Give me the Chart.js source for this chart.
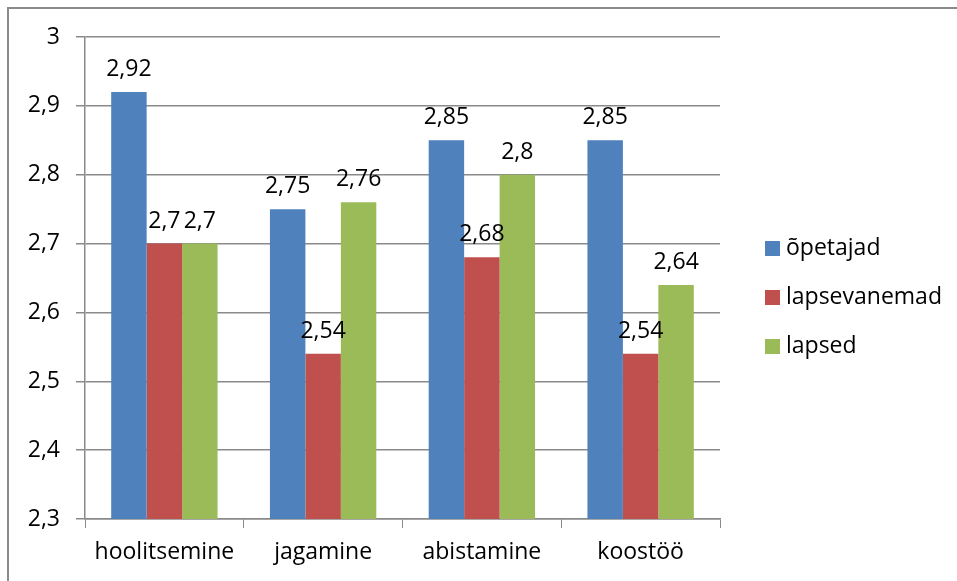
<!DOCTYPE html>
<html>
<head>
<meta charset="utf-8">
<script src="https://cdn.jsdelivr.net/npm/chart.js@4.4.1/dist/chart.umd.min.js"></script>
<style>
  html, body { margin: 0; padding: 0; background: #fff; }
  #frame {
    position: absolute; left: 7px; top: 7px; width: 950px; height: 574px;
    border-top: 2px solid #8a8a8a; border-left: 2px solid #8a8a8a;
  }
  #wrap { position: absolute; left: 0; top: 0; width: 957px; height: 581px; }
</style>
</head>
<body>
<div id="frame"></div>
<div id="wrap"><canvas id="chart"></canvas></div>
<script>
const categories = ["hoolitsemine", "jagamine", "abistamine", "koostöö"];
const seriesNames = ["õpetajad", "lapsevanemad", "lapsed"];
const opetajad = [2.92, 2.75, 2.85, 2.85];
const lapsevanemad = [2.7, 2.54, 2.68, 2.54];
const lapsed = [2.7, 2.76, 2.8, 2.64];
const colors = ["#4F81BD", "#C0504D", "#9BBB59"];

const FONT = "'Open Sans', sans-serif";
const fmt = (v) => String(Math.round(v * 100) / 100).replace(".", ",");

const valueLabels = {
  id: "valueLabels",
  afterDatasetsDraw(chart) {
    const ctx = chart.ctx;
    ctx.save();
    ctx.font = "23px " + FONT;
    ctx.fillStyle = "#000";
    ctx.textAlign = "center";
    ctx.textBaseline = "alphabetic";
    chart.data.datasets.forEach((ds, i) => {
      chart.getDatasetMeta(i).data.forEach((bar, j) => {
        ctx.fillText(fmt(ds.data[j]), bar.x, bar.y - 16);
      });
    });
    ctx.restore();
  }
};

const sideLegend = {
  id: "sideLegend",
  afterDraw(chart) {
    const ctx = chart.ctx;
    ctx.save();
    ctx.font = "23px " + FONT;
    ctx.textBaseline = "middle";
    ctx.textAlign = "left";
    chart.data.datasets.forEach((ds, i) => {
      const y = 248 + i * 49;
      ctx.fillStyle = ds.backgroundColor;
      ctx.fillRect(765, y - 7, 15, 15);
      ctx.fillStyle = "#000";
      ctx.fillText(ds.label, 786, y);
    });
    ctx.restore();
  }
};

new Chart(document.getElementById("chart"), {
  type: "bar",
  data: {
    labels: categories,
    datasets: [
      { label: seriesNames[0], data: opetajad, backgroundColor: colors[0] },
      { label: seriesNames[1], data: lapsevanemad, backgroundColor: colors[1] },
      { label: seriesNames[2], data: lapsed, backgroundColor: colors[2] },
    ],
  },
  options: {
    responsive: true,
    maintainAspectRatio: false,
    animation: false,
    layout: { padding: { left: 0, top: 37, right: 237, bottom: 0 } },
    datasets: { bar: { barPercentage: 1, categoryPercentage: 0.67 } },
    plugins: {
      legend: { display: false },
      tooltip: { enabled: false },
    },
    scales: {
      x: {
        afterFit: (s) => { s.height = 62; },
        grid: {
          display: true,
          drawOnChartArea: false,
          color: "#8a8a8a",
          tickLength: 9,
          offset: true,
        },
        border: { color: "#8a8a8a", width: 1.5 },
        ticks: { color: "#000", font: { family: FONT, size: 23 }, padding: 11 },
      },
      y: {
        min: 2.3,
        max: 3,
        afterFit: (s) => { s.width = 85; },
        grid: { color: "#8a8a8a", lineWidth: 1.5, tickLength: 9 },
        border: { color: "#8a8a8a", width: 1.5 },
        ticks: {
          stepSize: 0.1,
          color: "#000",
          font: { family: FONT, size: 23 },
          padding: 16,
          callback: (v) => fmt(v),
        },
      },
    },
  },
  plugins: [valueLabels, sideLegend],
});
</script>
</body>
</html>
